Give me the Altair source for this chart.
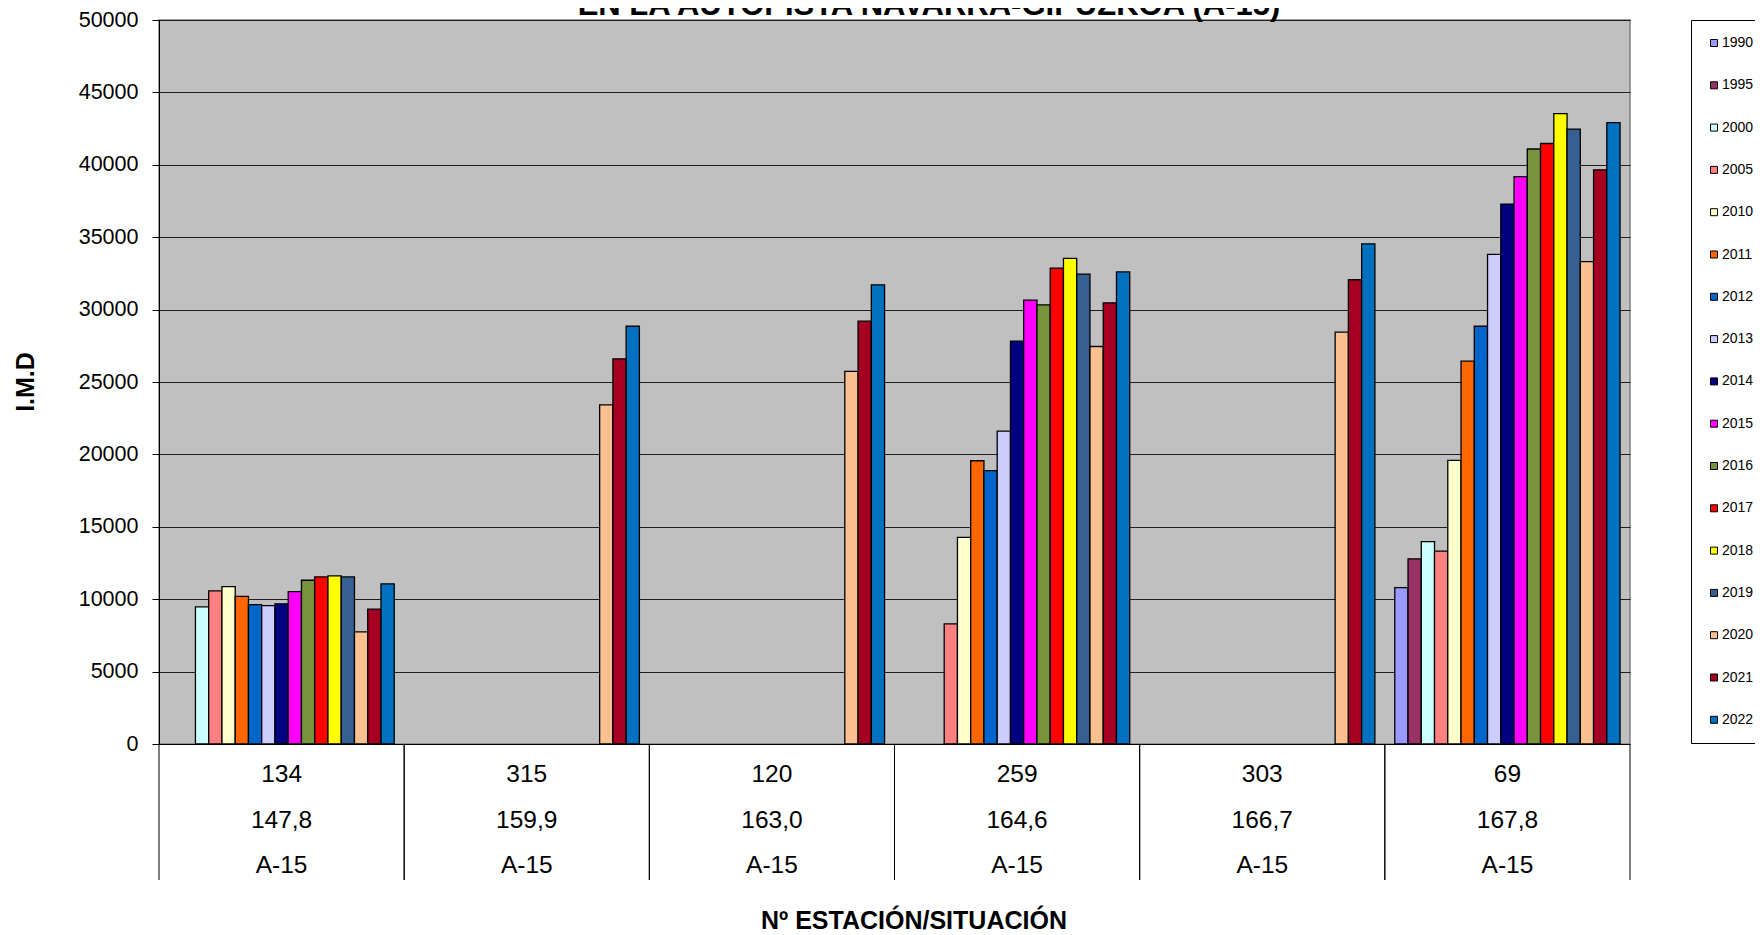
import altair as alt
import pandas as pd

FONT = "Liberation Sans"

title_text = "EN LA AUTOPISTA NAVARRA-GIPUZKOA (A-15)"
x_title = "Nº ESTACIÓN/SITUACIÓN"
y_title = "I.M.D"

stations = ["134", "315", "120", "259", "303", "69"]
km_labels = ["147,8", "159,9", "163,0", "164,6", "166,7", "167,8"]
road_labels = ["A-15", "A-15", "A-15", "A-15", "A-15", "A-15"]

years = ["1990", "1995", "2000", "2005", "2010", "2011", "2012", "2013", "2014",
         "2015", "2016", "2017", "2018", "2019", "2020", "2021", "2022"]
colors = ["#9999FF", "#993366", "#CCFFFF", "#FF8080", "#FFFFCC", "#FF6600",
          "#0066CC", "#CCCCFF", "#000080", "#FF00FF", "#77933C", "#FF0000",
          "#FFFF00", "#376092", "#FAC090", "#A50021", "#0070C0"]

imd_134 = [None, None, 9470, 10570, 10870, 10200, 9630, 9560, 9680, 10530,
           11310, 11540, 11610, 11540, 7750, 9310, 11060]
imd_315 = [None] * 14 + [23420, 26600, 28850]
imd_120 = [None] * 14 + [25730, 29200, 31710]
imd_259 = [None, None, None, 8300, 14270, 19560, 18880, 21610, 27820, 30650,
           30330, 32870, 33540, 32450, 27450, 30470, 32600]
imd_303 = [None] * 14 + [28440, 32060, 34540]
imd_69 = [10800, 12790, 13970, 13320, 19590, 26440, 28850, 33820, 37290, 39180,
          41090, 41470, 43530, 42470, 33320, 39650, 42910]

series = dict(zip(stations, [imd_134, imd_315, imd_120, imd_259, imd_303, imd_69]))

rows = []
for st in stations:
    for yr, v in zip(years, series[st]):
        if v is not None:
            rows.append({"station": st, "year": yr, "imd": v})
df = pd.DataFrame(rows)
lab = pd.DataFrame({"station": stations, "km": km_labels, "road": road_labels})

W, H = 1471, 724

x_scale = alt.Scale(domain=stations, paddingInner=0, paddingOuter=0)
x_axis = alt.Axis(title=None, labels=False, ticks=False, grid=False,
                  domain=True, domainColor="black", domainWidth=1)


def xenc(**kw):
    return alt.X("station:N", sort=stations, scale=x_scale, axis=x_axis, **kw)


bars = alt.Chart(df).mark_bar(stroke="black", strokeWidth=1.3).encode(
    x=xenc(),
    xOffset=alt.XOffset("year:N", sort=years,
                        scale=alt.Scale(domain=years, paddingInner=0, paddingOuter=0.75)),
    y=alt.Y("imd:Q", scale=alt.Scale(domain=[0, 50000], nice=False),
            axis=alt.Axis(title=None, values=list(range(0, 50001, 5000)), format="d",
                          labelFontSize=21.5, labelFont=FONT, labelColor="black",
                          tickColor="black", tickSize=7, labelPadding=14,
                          domainColor="black", domainWidth=1,
                          grid=True, gridColor="#1e1e1e", gridWidth=1)),
    color=alt.Color("year:N", sort=years,
                    scale=alt.Scale(domain=years, range=colors),
                    legend=alt.Legend(title=None, orient="none", legendX=1532, legendY=0,
                                      direction="vertical",
                                      symbolType="square", symbolSize=49,
                                      symbolStrokeColor="black", symbolStrokeWidth=1,
                                      labelFontSize=14, labelFont=FONT, labelColor="black",
                                      labelOffset=1, rowPadding=28.3, padding=16,
                                      strokeColor="black", fillColor="white",
                                      symbolLimit=40)),
)

sep_left = alt.Chart(lab).mark_rule(color="black", strokeWidth=1).encode(
    x=xenc(bandPosition=0), y=alt.value(H), y2=alt.value(H + 136))
sep_right = alt.Chart(lab).mark_rule(color="black", strokeWidth=1).encode(
    x=xenc(bandPosition=1), y=alt.value(H), y2=alt.value(H + 136))

row1 = alt.Chart(lab).mark_text(font=FONT, fontSize=24.5, color="black",
                                baseline="middle").encode(
    x=xenc(bandPosition=0.5), y=alt.value(H + 31), text="station:N")
row2 = alt.Chart(lab).mark_text(font=FONT, fontSize=24.5, color="black",
                                baseline="middle").encode(
    x=xenc(bandPosition=0.5), y=alt.value(H + 77), text="km:N")
row3 = alt.Chart(lab).mark_text(font=FONT, fontSize=24.5, color="black",
                                baseline="middle").encode(
    x=xenc(bandPosition=0.5), y=alt.value(H + 122), text="road:N")

ttl = alt.Chart(pd.DataFrame({"t": [title_text]})).mark_text(
    font=FONT, fontSize=31, fontWeight="bold", color="black",
    baseline="alphabetic", align="center").encode(
    text="t:N", x=alt.value(770), y=alt.value(-5))

xt = alt.Chart(pd.DataFrame({"t": [x_title]})).mark_text(
    font=FONT, fontSize=25, fontWeight="bold", color="black",
    baseline="middle", align="center").encode(
    text="t:N", x=alt.value(755), y=alt.value(901))

yt = alt.Chart(pd.DataFrame({"t": [y_title]})).mark_text(
    font=FONT, fontSize=25, fontWeight="bold", color="black",
    baseline="middle", align="center", angle=270).encode(
    text="t:N", x=alt.value(-133), y=alt.value(362))

chart = alt.layer(bars, sep_left, sep_right, row1, row2, row3, ttl, xt, yt).properties(
    width=W, height=H,
    padding={"left": 151, "top": 12, "right": 125, "bottom": 191},
    autosize=alt.AutoSizeParams(type="none"),
    background="white",
).configure_view(fill="#C0C0C0", stroke="#808080", strokeWidth=1.5)

chart.save("out.html", embed_options={"renderer": "svg", "actions": False})
